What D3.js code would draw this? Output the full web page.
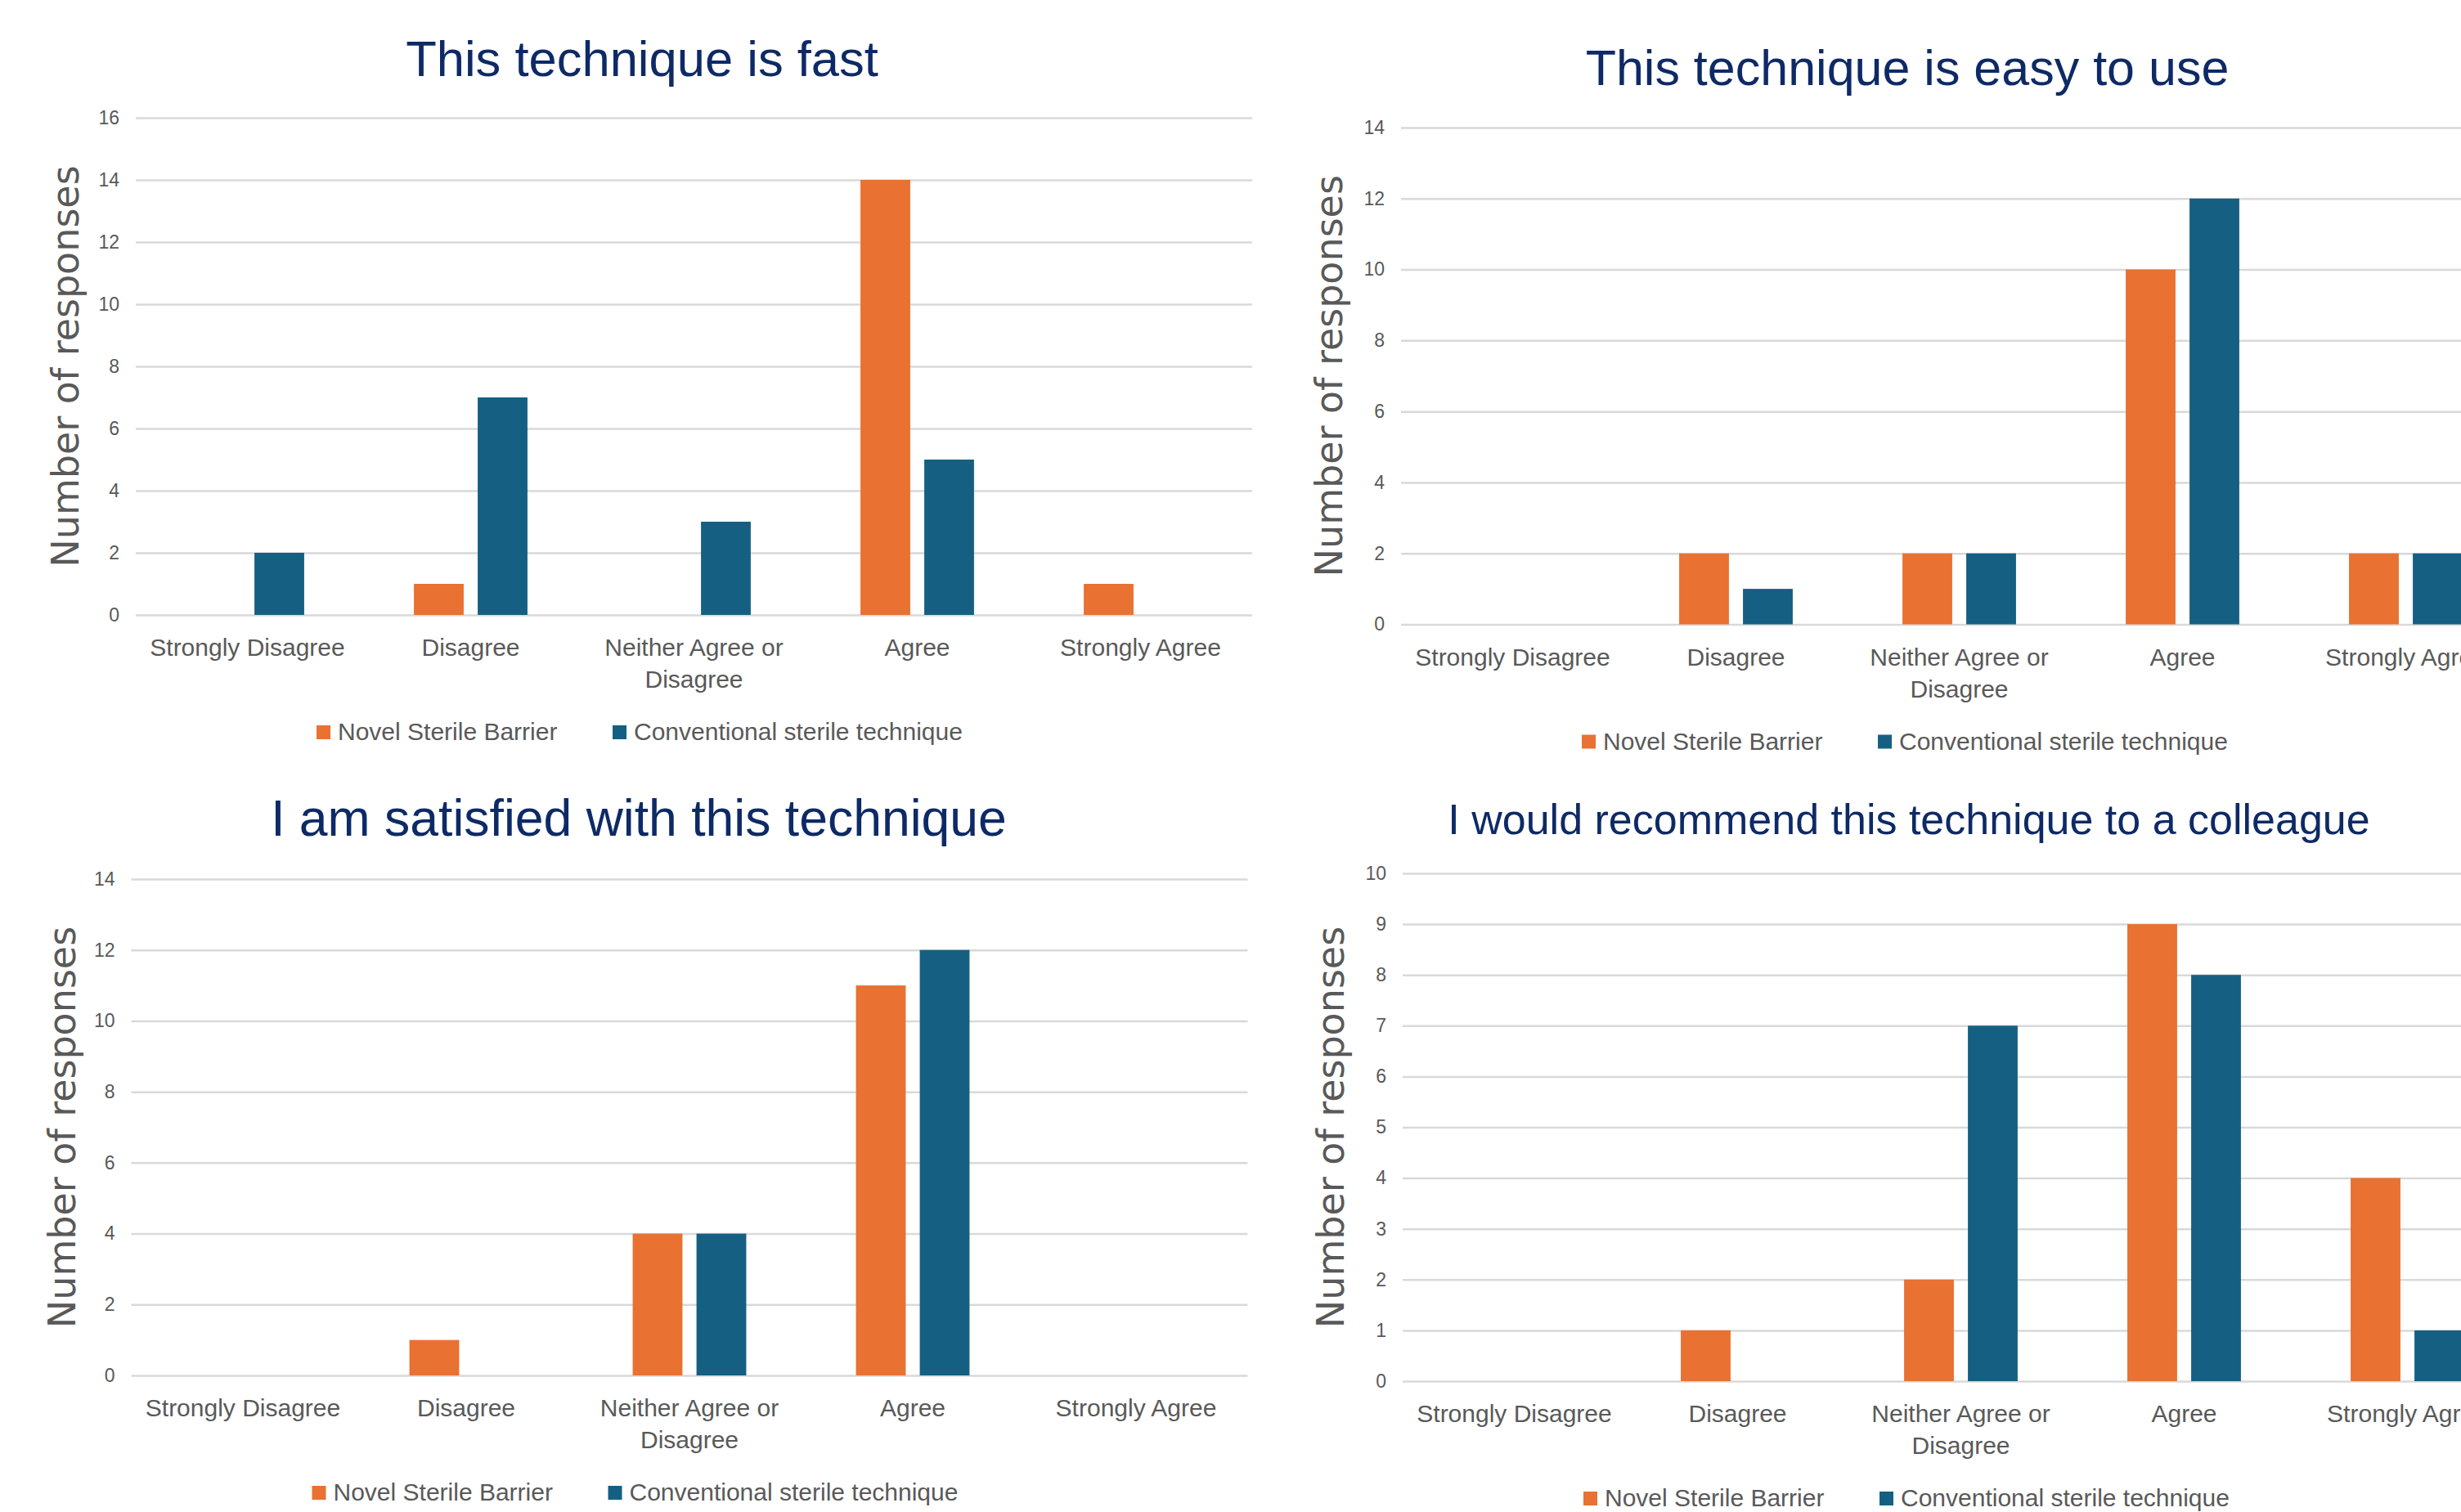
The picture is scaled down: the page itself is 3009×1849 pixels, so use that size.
<!DOCTYPE html>
<meta charset="utf-8">
<script src="https://d3js.org/d3.v7.min.js"></script>
<style>
  body { margin: 0; background: #fff; }
  svg text { font-family: "Liberation Sans", Arial, sans-serif; }
</style>
<body>
<div id="chart"></div>
<script>
// categories and series
var categories = ["Strongly Disagree", "Disagree", "Neither Agree or Disagree", "Agree", "Strongly Agree"];
var seriesNames = ["Novel Sterile Barrier", "Conventional sterile technique"];
var titles = ["This technique is fast", "This technique is easy to use",
              "I am satisfied with this technique", "I would recommend this technique to a colleague"];

// values
var fastNovel = [0, 1, 0, 14, 1];
var fastConventional = [2, 7, 3, 5, 0];
var easyNovel = [0, 2, 2, 10, 2];
var easyConventional = [0, 1, 2, 12, 2];
var satisfiedNovel = [0, 1, 4, 11, 0];
var satisfiedConventional = [0, 0, 4, 12, 0];
var recommendNovel = [0, 1, 2, 9, 4];
var recommendConventional = [0, 0, 7, 8, 1];

// y axis ranges / tick steps
var yMaxes = [16, 14, 14, 10];
var yTickSteps = [2, 2, 2, 1];

var colors = ["#E97132", "#156082"];
var textGrey = "#595959";
var gridGrey = "#D9D9D9";
var titleColor = "#0E2A66";

var W = 3009, H = 1849;
var band = 273;

// where each of the 4 panels sits on the page
var panels = [
  {left: 166,   top: 144,  bottom: 752,   titleX: 785,  titleY: 93,   titleSize: 61.5, axisX: 96,
   values: [fastNovel, fastConventional]},
  {left: 1713,  top: 156,  bottom: 763.5, titleX: 2332, titleY: 104,  titleSize: 61, axisX: 1641,
   values: [easyNovel, easyConventional]},
  {left: 160.5, top: 1075, bottom: 1682,  titleX: 781,  titleY: 1022, titleSize: 62.5, axisX: 92,
   values: [satisfiedNovel, satisfiedConventional]},
  {left: 1715,  top: 1068, bottom: 1689,  titleX: 2334, titleY: 1020, titleSize: 52, axisX: 1643,
   values: [recommendNovel, recommendConventional]}
];

var svg = d3.select("#chart").append("svg")
    .attr("width", W)
    .attr("height", H)
    .style("display", "block")
    .style("background", "#fff");

// wrap long category labels onto two lines
function wrap(text, width) {
  text.each(function() {
    var t = d3.select(this),
        words = t.text().split(/\s+/).reverse(),
        word, line = [], lineNumber = 0,
        y = t.attr("y"), dy = parseFloat(t.attr("dy")) || 0,
        tspan = t.text(null).append("tspan").attr("x", 0).attr("y", y).attr("dy", dy + "px");
    while (word = words.pop()) {
      line.push(word);
      tspan.text(line.join(" "));
      if (tspan.node().getComputedTextLength() > width && line.length > 1) {
        line.pop();
        tspan.text(line.join(" "));
        line = [word];
        tspan = t.append("tspan").attr("x", 0).attr("y", y)
          .attr("dy", (dy + (++lineNumber) * 39) + "px").text(word);
      }
    }
  });
}

panels.forEach(function(p, i) {
  var plotW = band * categories.length;
  var plotH = p.bottom - p.top;
  var g = svg.append("g").attr("transform", "translate(" + p.left + "," + p.top + ")");

  var x0 = d3.scaleBand().domain(categories).range([0, plotW]).padding(0);
  var x1 = d3.scaleBand().domain(seriesNames).range([0, x0.bandwidth()])
      .paddingInner(0.22).paddingOuter(0.86);
  var y = d3.scaleLinear().domain([0, yMaxes[i]]).range([plotH, 0]);

  // gridlines + tick labels
  var yAxis = g.append("g")
      .call(d3.axisLeft(y)
        .tickValues(d3.range(0, yMaxes[i] + yTickSteps[i] / 2, yTickSteps[i]))
        .tickSize(-plotW)
        .tickPadding(20));
  yAxis.select(".domain").remove();
  yAxis.selectAll(".tick line").attr("stroke", gridGrey).attr("stroke-width", 2.5);
  yAxis.selectAll(".tick text")
      .attr("fill", textGrey)
      .style("font-size", "23px");

  // bars
  var groups = g.selectAll(".cat")
    .data(categories)
    .enter().append("g")
      .attr("transform", function(d) { return "translate(" + x0(d) + ",0)"; });

  groups.selectAll("rect")
    .data(function(d, ci) {
      return seriesNames.map(function(s, si) { return {s: s, v: p.values[si][ci], c: colors[si]}; });
    })
    .enter().append("rect")
      .filter(function(d) { return d.v > 0; })
      .attr("x", function(d) { return x1(d.s); })
      .attr("y", function(d) { return y(d.v); })
      .attr("width", x1.bandwidth())
      .attr("height", function(d) { return plotH - y(d.v); })
      .attr("fill", function(d) { return d.c; });

  // category labels
  var xAxis = g.append("g")
      .attr("transform", "translate(0," + plotH + ")")
      .call(d3.axisBottom(x0).tickSize(0).tickPadding(0));
  xAxis.select(".domain").remove();
  xAxis.selectAll(".tick text")
      .attr("y", 50)
      .attr("dy", 0)
      .attr("fill", textGrey)
      .style("font-size", "30px")
      .call(wrap, 262);

  // chart title
  svg.append("text")
      .attr("x", p.titleX)
      .attr("y", p.titleY)
      .attr("text-anchor", "middle")
      .attr("fill", titleColor)
      .style("font-size", p.titleSize + "px")
      .text(titles[i]);

  // y axis title
  svg.append("text")
      .attr("transform", "translate(" + p.axisX + "," + (p.top + plotH / 2) + ") rotate(-90)")
      .attr("text-anchor", "middle")
      .attr("fill", textGrey)
      .style("font-family", "'DejaVu Sans', sans-serif")
      .style("font-size", "46px")
      .text("Number of responses");

  // legend
  var legX = [221, 583];
  var legend = g.append("g").attr("transform", "translate(0," + (plotH + 153) + ")");
  seriesNames.forEach(function(s, si) {
    legend.append("rect")
        .attr("x", legX[si])
        .attr("y", -18)
        .attr("width", 17)
        .attr("height", 17)
        .attr("fill", colors[si]);
    legend.append("text")
        .attr("x", legX[si] + 26)
        .attr("y", 0)
        .attr("fill", textGrey)
        .style("font-size", "30px")
        .text(s);
  });
});
</script>
</body>
